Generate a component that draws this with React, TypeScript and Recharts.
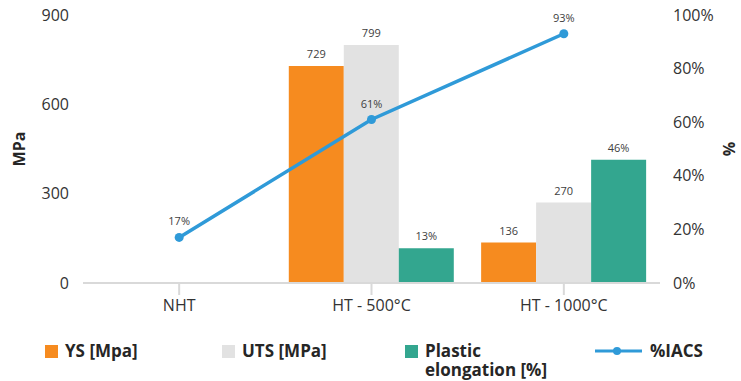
import React from 'react';
import { ComposedChart, Bar, Line, XAxis, YAxis, LabelList } from 'recharts';

const categories = ['NHT', 'HT - 500°C', 'HT - 1000°C'];
const ysValues = [null, 729, 136];
const utsValues = [null, 799, 270];
const elongationValues = [null, 13, 46];
const iacsValues = [17, 61, 93];
const mpaTicks = [0, 300, 600, 900];
const pctTicks = [0, 20, 40, 60, 80, 100];

const FONT = '"Open Sans", "Noto Sans", sans-serif';
const ORANGE = '#f68b1f';
const GREY = '#e2e2e2';
const TEAL = '#33a68f';
const BLUE = '#2f9ad8';

const chartData = categories.map((name, i) => ({
  name,
  ys: ysValues[i],
  uts: utsValues[i],
  elong: elongationValues[i],
  iacs: iacsValues[i],
}));

const legendItems = [
  { label: 'YS [Mpa]', color: ORANGE, kind: 'box', left: 45 },
  { label: 'UTS [MPa]', color: GREY, kind: 'box', left: 222 },
  { label: 'Plastic\nelongation [%]', color: TEAL, kind: 'box', left: 405 },
  { label: '%IACS', color: BLUE, kind: 'line', left: 595 },
];

const ChartLegend = () => (
  <div style={{ position: 'absolute', left: 0, top: 0, width: 741, height: 381, pointerEvents: 'none' }}>
    {legendItems.map((item) => (
      <div
        key={item.label}
        style={{ position: 'absolute', left: item.left, top: 341, display: 'flex', alignItems: 'flex-start' }}
      >
        {item.kind === 'box' ? (
          <div style={{ width: 13, height: 13, background: item.color, marginTop: 4, marginRight: 7 }} />
        ) : (
          <svg width={48} height={20} style={{ marginRight: 7 }}>
            <line x1={0} y1={10} x2={47} y2={10} stroke={item.color} strokeWidth={3} />
            <circle cx={22} cy={10} r={4} fill={item.color} />
          </svg>
        )}
        <div
          style={{
            fontFamily: FONT,
            fontWeight: 700,
            fontSize: 17,
            lineHeight: '19px',
            color: '#262626',
            whiteSpace: 'pre',
          }}
        >
          {item.label}
        </div>
      </div>
    ))}
  </div>
);

export default function App() {
  const labelStyle = { fill: '#404040', fontSize: 11, fontFamily: FONT };
  const tickStyle = { fill: '#333333', fontSize: 16, fontFamily: FONT };
  return (
    <div style={{ position: 'absolute', left: 0, top: 0, width: 741, height: 381, background: '#fff' }}>
      <ComposedChart
        width={741}
        height={381}
        data={chartData}
        margin={{ top: 15, right: 0, bottom: 68, left: 0 }}
        barCategoryGap="7%"
        barGap={0}
      >
        <XAxis
          dataKey="name"
          axisLine={{ stroke: '#d9d9d9', strokeWidth: 2 }}
          tickLine={{ stroke: '#d9d9d9', strokeWidth: 2 }}
          tickSize={12}
          tick={tickStyle}
          height={30}
          tickMargin={5}
        />
        <YAxis
          yAxisId="mpa"
          domain={[0, 900]}
          ticks={mpaTicks}
          axisLine={false}
          tickLine={false}
          tick={tickStyle}
          tickMargin={8}
          width={83}
          label={{ value: 'MPa', angle: -90, position: 'insideLeft', offset: 19, style: { fill: '#262626', fontSize: 16, fontWeight: 700, fontFamily: FONT, textAnchor: 'middle' } }}
        />
        <YAxis
          yAxisId="pct"
          orientation="right"
          domain={[0, 100]}
          ticks={pctTicks}
          tickFormatter={(v) => `${v}%`}
          axisLine={false}
          tickLine={false}
          tick={{ ...tickStyle, textAnchor: 'start' }}
          tickMargin={7}
          width={81}
          label={{ value: '%', angle: -90, position: 'insideRight', offset: 12, style: { fill: '#262626', fontSize: 16, fontWeight: 700, fontFamily: FONT, textAnchor: 'middle' } }}
        />
        <Bar yAxisId="mpa" dataKey="ys" fill={ORANGE} isAnimationActive={false}>
          <LabelList dataKey="ys" position="top" offset={8} style={labelStyle} />
        </Bar>
        <Bar yAxisId="mpa" dataKey="uts" fill={GREY} isAnimationActive={false}>
          <LabelList dataKey="uts" position="top" offset={8} style={labelStyle} />
        </Bar>
        <Bar yAxisId="pct" dataKey="elong" fill={TEAL} isAnimationActive={false}>
          <LabelList dataKey="elong" position="top" offset={8} formatter={(v: any) => `${v}%`} style={labelStyle} />
        </Bar>
        <Line
          yAxisId="pct"
          dataKey="iacs"
          stroke={BLUE}
          strokeWidth={3.5}
          dot={{ r: 4.5, fill: BLUE, stroke: BLUE, strokeWidth: 0 }}
          isAnimationActive={false}
        >
          <LabelList dataKey="iacs" position="top" offset={12} formatter={(v: any) => `${v}%`} style={labelStyle} />
        </Line>
      </ComposedChart>
      <ChartLegend />
    </div>
  );
}
